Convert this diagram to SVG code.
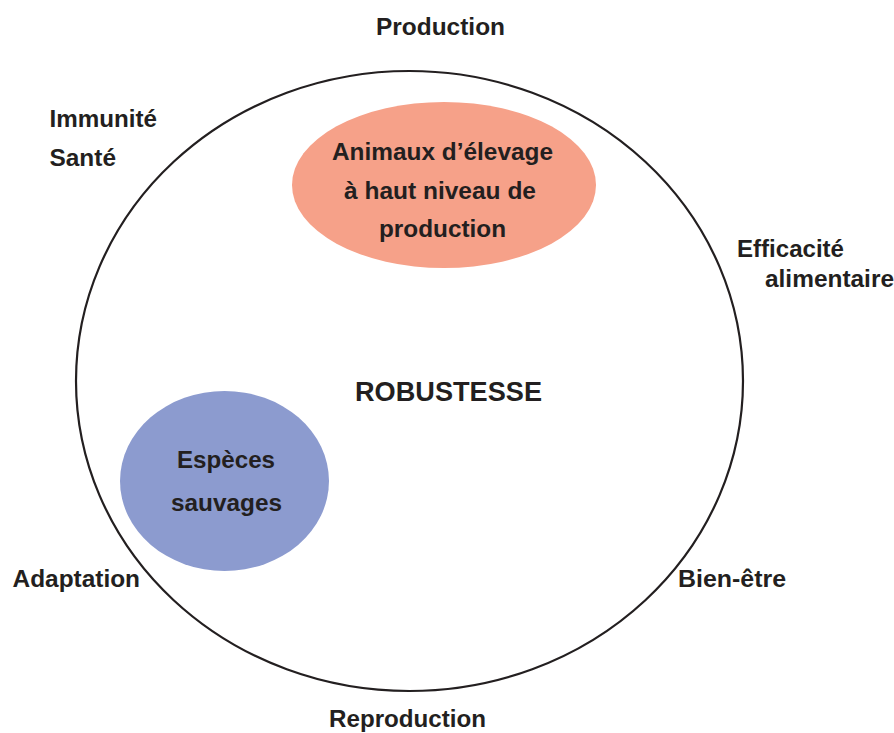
<svg xmlns="http://www.w3.org/2000/svg" width="894" height="733" viewBox="0 0 894 733">
<style>
text{font-family:"Liberation Sans",Arial,sans-serif;font-weight:bold;fill:#231f20}
.o{font-size:24px}
.i{font-size:23.5px;text-anchor:middle}
</style>
<rect width="894" height="733" fill="#fff"/>
<g id="robustesse">
<ellipse cx="409.5" cy="381" rx="333.5" ry="310" fill="none" stroke="#231f20" stroke-width="2.2"/>
<text x="448.5" y="401" font-size="27" text-anchor="middle" textLength="187" lengthAdjust="spacingAndGlyphs">ROBUSTESSE</text>
</g>
<g id="animaux">
<ellipse cx="444" cy="185" rx="152" ry="83" fill="#f6a189"/>
<text class="i" x="442.5" y="160" textLength="221" lengthAdjust="spacingAndGlyphs">Animaux d’élevage</text>
<text class="i" x="440" y="199" textLength="192" lengthAdjust="spacingAndGlyphs">à haut niveau de</text>
<text class="i" x="442.5" y="237" textLength="127" lengthAdjust="spacingAndGlyphs">production</text>
</g>
<g id="especes">
<ellipse cx="224.5" cy="481" rx="104.5" ry="90" fill="#8c9bcf"/>
<text class="i" x="226" y="468" textLength="98" lengthAdjust="spacingAndGlyphs">Espèces</text>
<text class="i" x="226.5" y="511" textLength="111" lengthAdjust="spacingAndGlyphs">sauvages</text>
</g>
<g id="labels">
<text class="o" x="376" y="35" textLength="129" lengthAdjust="spacingAndGlyphs">Production</text>
<text class="o" x="49.5" y="127" textLength="107.5" lengthAdjust="spacingAndGlyphs">Immunité</text>
<text class="o" x="49.5" y="166" textLength="66.5" lengthAdjust="spacingAndGlyphs">Santé</text>
<text class="o" x="737" y="257" textLength="107" lengthAdjust="spacingAndGlyphs">Efficacité</text>
<text class="o" x="765" y="287" textLength="129" lengthAdjust="spacingAndGlyphs">alimentaire</text>
<text class="o" x="12.5" y="587" textLength="127.5" lengthAdjust="spacingAndGlyphs">Adaptation</text>
<text class="o" x="678" y="587" textLength="108" lengthAdjust="spacingAndGlyphs">Bien-être</text>
<text class="o" x="329" y="727" textLength="157" lengthAdjust="spacingAndGlyphs">Reproduction</text>
</g>
<g id="connectors"/>
</svg>
